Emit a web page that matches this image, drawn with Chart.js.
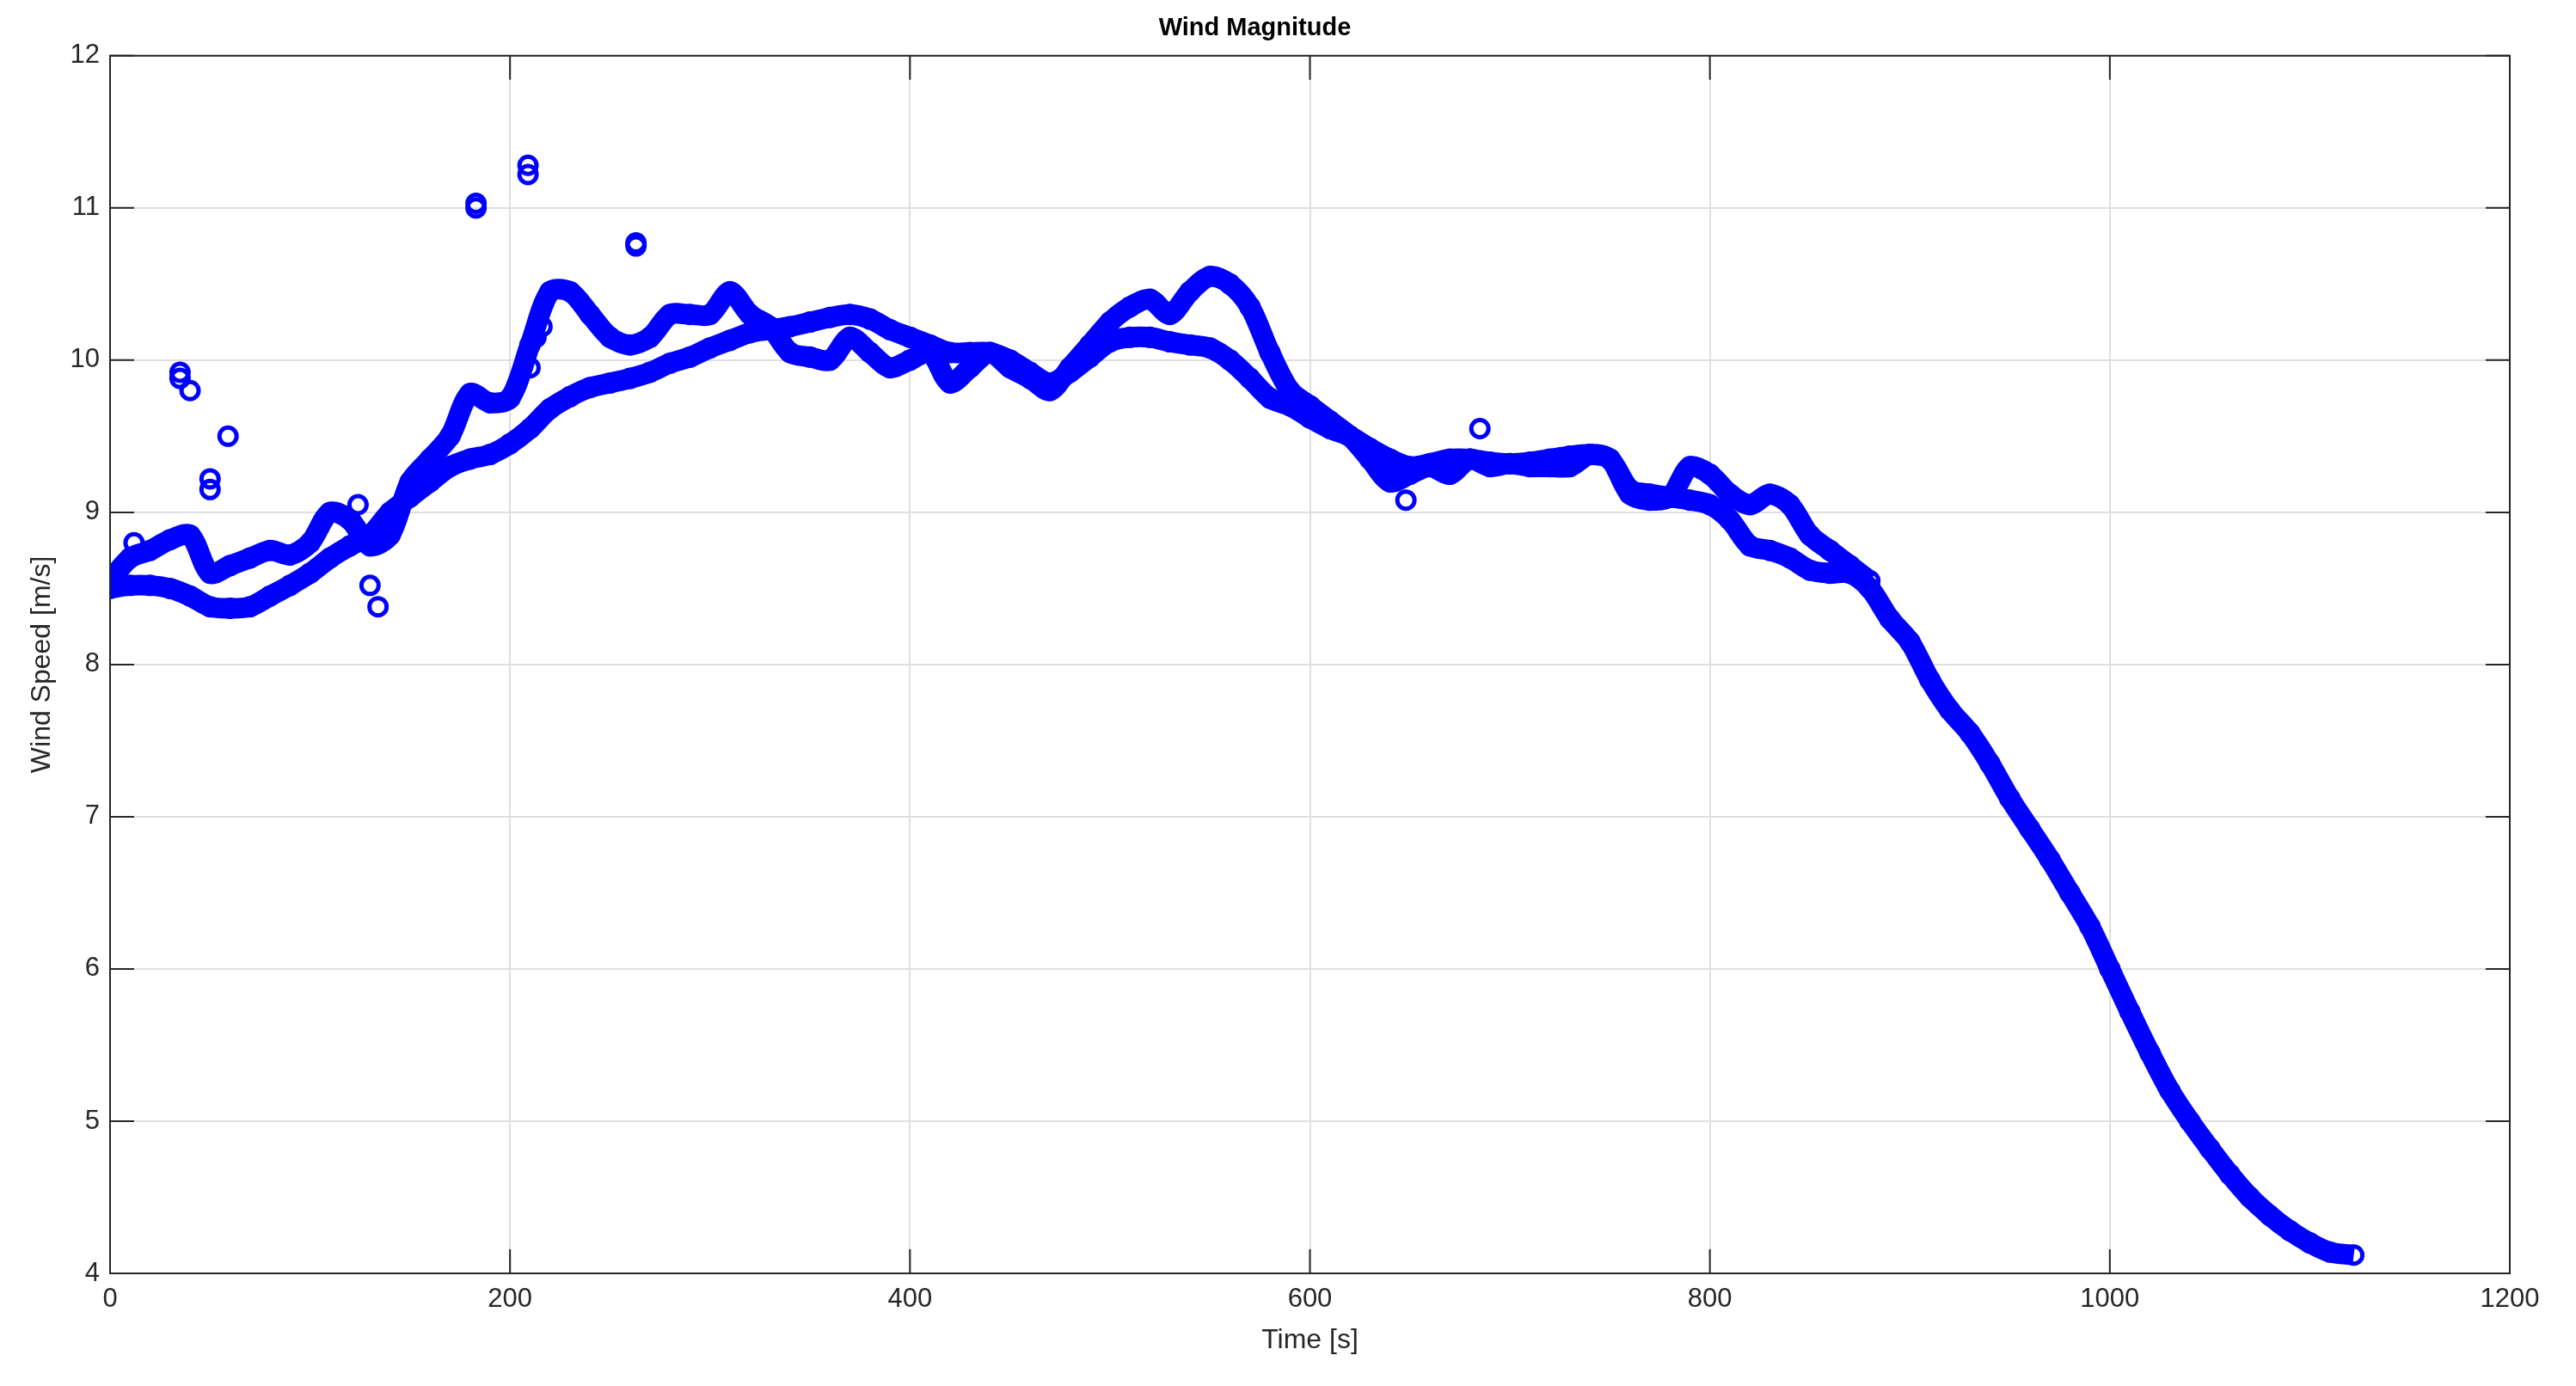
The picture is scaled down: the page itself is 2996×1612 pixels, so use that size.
<!DOCTYPE html>
<html><head><meta charset="utf-8">
<script src="https://cdn.jsdelivr.net/npm/chart.js@4"></script>
<style>html,body{margin:0;background:#fff}#w{width:2996px;height:1612px}</style>
</head><body><div id="w"><canvas id="c"></canvas></div>
<script>
const smoothT = [0,10,20,30,40,50,60,70,80,90,100,110,120,130,140,150,160,170,180,190,200,210,220,230,240,250,260,270,280,290,300,310,320,330,340,350,360,370,380,390,400,410,420,430,440,450,460,470,480,490,500,510,520,530,540,550,560,570,580,590,600,610,620,630,640,650,660,670,680,690,700,710,720,730,740,750,760,770,780,790,800,810,820,830,840,850,860,870,880,890,900,910,920,930,940,950,960,970,980,990,1000,1010,1020,1030,1040,1050,1060,1070,1080,1090,1100,1110,1122];
const smoothV = [8.5,8.52,8.52,8.5,8.45,8.38,8.37,8.38,8.45,8.52,8.6,8.7,8.78,8.85,9.0,9.1,9.2,9.3,9.35,9.38,9.45,9.55,9.68,9.76,9.82,9.85,9.88,9.92,9.98,10.02,10.08,10.13,10.18,10.2,10.22,10.25,10.28,10.3,10.27,10.2,10.15,10.1,10.05,10.05,10.05,10.0,9.92,9.85,9.92,10.02,10.12,10.15,10.15,10.12,10.1,10.08,10.0,9.88,9.75,9.7,9.62,9.55,9.5,9.42,9.35,9.3,9.32,9.35,9.35,9.33,9.32,9.33,9.35,9.37,9.38,9.35,9.15,9.12,9.1,9.08,9.05,8.95,8.78,8.75,8.7,8.62,8.6,8.6,8.5,8.3,8.15,7.9,7.7,7.55,7.35,7.12,6.92,6.72,6.5,6.28,6.0,5.72,5.45,5.2,5.0,4.82,4.65,4.5,4.38,4.28,4.2,4.14,4.12];
const rawT = [0,10,20,30,40,50,60,70,80,90,100,110,120,130,140,150,160,170,180,190,200,210,220,230,240,250,260,270,280,290,300,310,320,330,340,350,360,370,380,390,400,410,420,430,440,450,460,470,480,490,500,510,520,530,540,550,560,570,580,590,600,610,620,630,640,650,660,670,680,690,700,710,720,730,740,750,760,770,780,790,800,810,820,830,840,850,860,870,880];
const rawV = [8.55,8.7,8.75,8.82,8.85,8.6,8.65,8.7,8.75,8.72,8.8,9.0,8.95,8.78,8.85,9.2,9.35,9.5,9.78,9.72,9.75,10.1,10.45,10.45,10.3,10.15,10.1,10.15,10.3,10.3,10.3,10.45,10.3,10.22,10.05,10.02,10.0,10.15,10.05,9.95,10.0,10.05,9.85,9.95,10.05,9.95,9.88,9.8,9.95,10.1,10.25,10.35,10.4,10.3,10.45,10.55,10.5,10.35,10.05,9.8,9.7,9.6,9.5,9.35,9.2,9.25,9.3,9.25,9.35,9.3,9.32,9.3,9.3,9.3,9.38,9.35,9.12,9.08,9.1,9.3,9.25,9.12,9.05,9.12,9.05,8.85,8.75,8.65,8.55];
const outT = [12,35,35,40,50,50,59,124,130,134,183,183,209,209,210,213,216,263,263,648,685];
const outV = [8.8,9.92,9.88,9.8,9.22,9.15,9.5,9.05,8.52,8.38,11.03,11.0,11.28,11.22,9.95,10.15,10.22,10.77,10.75,9.08,9.55];
const xTicks = [0,200,400,600,800,1000,1200];
const yTicks = [4,5,6,7,8,9,10,11,12];

const toXY = (t,v) => t.map((x,i)=>({x, y:v[i]}));
const BLUE = '#0000ff';
const FONT = 'Arial, "Liberation Sans", sans-serif';
const lineDs = (d) => ({data:d, showLine:true, borderColor:BLUE, borderWidth:24, pointRadius:10, pointBorderWidth:5, pointBackgroundColor:'rgba(0,0,0,0)', pointBorderColor:BLUE, tension:0.3});
const frame = {id:'frame', afterDraw(ch){const a=ch.chartArea,c=ch.ctx;c.save();c.strokeStyle='#262626';c.lineWidth=2;c.strokeRect(a.left,a.top,a.right-a.left,a.bottom-a.top);
  c.beginPath();
  const xs=ch.scales.x, ys=ch.scales.y;
  xTicks.forEach(v=>{const p=xs.getPixelForValue(v);c.moveTo(p,a.bottom);c.lineTo(p,a.bottom-28);c.moveTo(p,a.top);c.lineTo(p,a.top+28);});
  yTicks.forEach(v=>{const p=ys.getPixelForValue(v);c.moveTo(a.left,p);c.lineTo(a.left+28,p);c.moveTo(a.right,p);c.lineTo(a.right-28,p);});
  c.stroke();c.restore();}};
new Chart(document.getElementById('c'), {
  type:'scatter',
  data:{datasets:[lineDs(toXY(smoothT,smoothV)), lineDs(toXY(rawT,rawV)),
    {data:toXY(outT,outV), borderColor:BLUE, backgroundColor:'rgba(0,0,0,0)', pointRadius:10, pointBorderWidth:5}]},
  options:{responsive:true, maintainAspectRatio:false, animation:false,
    layout:{padding:{right:77,top:0,left:0,bottom:30}},
    plugins:{legend:{display:false}, tooltip:{enabled:false},
      title:{display:true, text:'Wind Magnitude', color:'#000', font:{family:FONT, size:29, weight:'bold'}, padding:{top:16,bottom:14}}},
    scales:{
      x:{type:'linear', min:0, max:1200, afterBuildTicks(s){s.ticks=xTicks.map(v=>({value:v}));},
        afterFit(s){s.height=101;},
        grid:{color:'#dfdfdf', lineWidth:2, drawTicks:false}, border:{color:'#262626',width:2},
        ticks:{color:'#262626', padding:12, callback:v=>String(v), font:{family:FONT, size:31}},
        title:{display:true, text:'Time [s]', color:'#262626', font:{family:FONT, size:32}, padding:{top:4}}},
      y:{min:4, max:12, afterBuildTicks(s){s.ticks=yTicks.map(v=>({value:v}));},
        afterFit(s){s.width=128;},
        grid:{color:'#dfdfdf', lineWidth:2, drawTicks:false}, border:{color:'#262626',width:2},
        ticks:{color:'#262626', padding:12, callback:v=>String(v), font:{family:FONT, size:31}},
        title:{display:true, text:'Wind Speed [m/s]', color:'#262626', font:{family:FONT, size:32}, padding:{top:30,bottom:4}}}
    }},
  plugins:[frame]
});
</script></body></html>
